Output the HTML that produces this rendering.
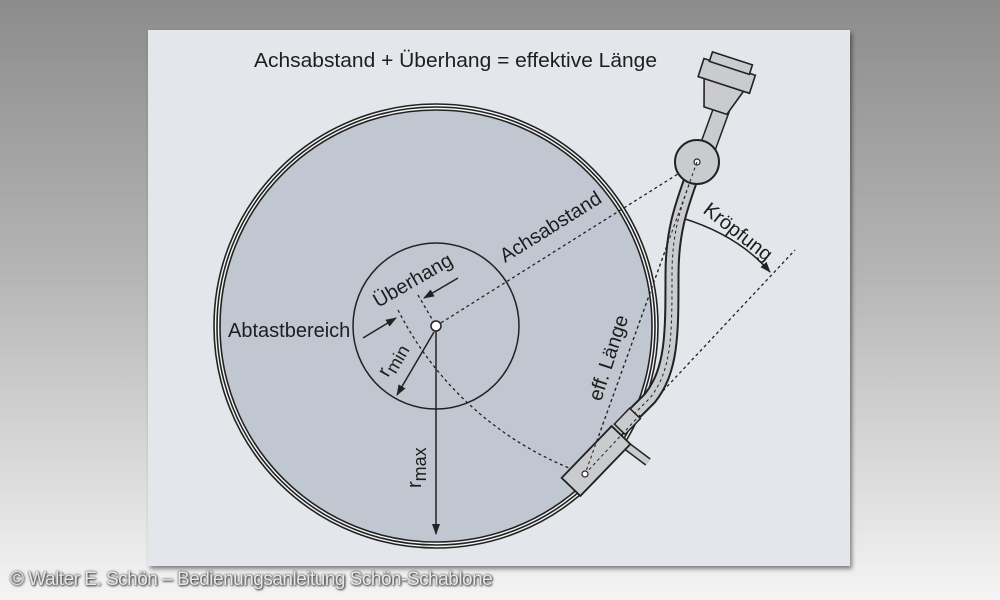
<!DOCTYPE html>
<html><head><meta charset="utf-8"><style>
html,body{margin:0;padding:0;width:1000px;height:600px;overflow:hidden;background:linear-gradient(#8c8c8c 0%,#b4b4b4 45%,#f4f4f4 100%);font-family:"Liberation Sans",sans-serif;}
#card{position:absolute;left:148px;top:30px;width:702px;height:536px;background:#e3e6ea;box-shadow:2px 3px 4px rgba(0,0,0,.45);}
#copy{position:absolute;left:10px;top:569px;font-size:19px;color:#e8e8e8;letter-spacing:-0.5px;text-shadow:0 0 2px #333,1px 1px 2px #333;}
svg{position:absolute;left:0;top:0}
text{font-family:"Liberation Sans Narrow","Liberation Sans",sans-serif;fill:#1e1e1e;font-size:20px}
</style></head><body>
<div id="card"></div>
<svg width="1000" height="600" viewBox="0 0 1000 600">
<defs><marker id="ar" markerWidth="11" markerHeight="8" refX="10" refY="4" orient="auto" markerUnits="userSpaceOnUse"><path d="M0,0 L11,4 L0,8 z" fill="#222"/></marker></defs>
<text x="254" y="67" font-size="21" textLength="403" lengthAdjust="spacingAndGlyphs">Achsabstand + Überhang = effektive Länge</text>
<circle cx="436" cy="326" r="222" fill="#f4f5f7" stroke="#222" stroke-width="1.6"/>
<circle cx="436" cy="326" r="219" fill="none" stroke="#222" stroke-width="1.6"/>
<circle cx="436" cy="326" r="216" fill="#c1c7d0" stroke="#222" stroke-width="1.6"/>
<circle cx="436" cy="326" r="83" fill="none" stroke="#222" stroke-width="1.5"/>
<line x1="436" y1="326" x2="697" y2="162" stroke="#222" stroke-width="1.3" stroke-dasharray="3,3"/>
<line x1="697" y1="162" x2="585" y2="474" stroke="#222" stroke-width="1.3" stroke-dasharray="3,3"/>
<line x1="585" y1="474" x2="795" y2="250" stroke="#222" stroke-width="1.3" stroke-dasharray="3,3"/>
<path d="M398,310 A333,333 0 0 0 585,474" fill="none" stroke="#222" stroke-width="1.3" stroke-dasharray="3,3"/>
<line x1="418" y1="295" x2="436" y2="326" stroke="#222" stroke-width="1.3" stroke-dasharray="3,3"/>
<line x1="458" y1="278" x2="424" y2="298" stroke="#222" stroke-width="1.5" marker-end="url(#ar)"/>
<line x1="363" y1="338" x2="396" y2="318" stroke="#222" stroke-width="1.5" marker-end="url(#ar)"/>
<line x1="434" y1="332" x2="397" y2="395" stroke="#222" stroke-width="1.5" marker-end="url(#ar)"/>
<line x1="436" y1="330" x2="436" y2="534" stroke="#222" stroke-width="1.5" marker-end="url(#ar)"/>
<path d="M682,218 Q738,235 770,272" fill="none" stroke="#222" stroke-width="1.5" marker-end="url(#ar)"/>
<circle cx="436" cy="326" r="5" fill="#fff" stroke="#222" stroke-width="1.5"/>
<!-- arm -->
<path d="M697,162 C684,200 672,225 672,275 C672,335 672,370 650,398 L628,420" fill="none" stroke="#222" stroke-width="15"/>
<path d="M697,162 C684,200 672,225 672,275 C672,335 672,370 650,398 L628,420" fill="none" stroke="#cacbce" stroke-width="11"/>
<path d="M697,162 C684,200 672,225 672,275 C672,335 672,370 650,398 L628,420" fill="none" stroke="#222" stroke-width="1" stroke-dasharray="3,3"/>
<rect x="706" y="108" width="16" height="42" fill="#cacbce" stroke="#222" stroke-width="1.5" transform="rotate(20 714 130)"/>
<g transform="rotate(18 725 78)">
<path d="M705,84 L747,84 L738,112 L714,112 z" fill="#cacbce" stroke="#222" stroke-width="1.6"/>
<rect x="699" y="66" width="54" height="19" fill="#cacbce" stroke="#222" stroke-width="1.6"/>
<rect x="705" y="57" width="42" height="10" fill="#cacbce" stroke="#222" stroke-width="1.6"/>
</g>
<circle cx="697" cy="162" r="22" fill="#cacbce" stroke="#222" stroke-width="2"/>
<circle cx="697" cy="162" r="3" fill="#fff" stroke="#222" stroke-width="1.2"/>
<!-- headshell -->
<line x1="628" y1="447" x2="648" y2="462" stroke="#222" stroke-width="9"/>
<line x1="628" y1="447" x2="648" y2="462" stroke="#cacbce" stroke-width="6"/>
<rect x="560" y="448" width="72" height="26" fill="#cacbce" stroke="#222" stroke-width="1.8" transform="rotate(-46 596 461)"/>
<rect x="616" y="414" width="22" height="15" fill="#cacbce" stroke="#222" stroke-width="1.5" transform="rotate(-46 627 421)"/>
<line x1="585" y1="474" x2="640" y2="415" stroke="#222" stroke-width="1" stroke-dasharray="3,3"/>
<line x1="697" y1="162" x2="585" y2="474" stroke="#222" stroke-width="1" stroke-dasharray="3,3"/>
<circle cx="585" cy="474" r="3" fill="#fff" stroke="#222" stroke-width="1.2"/>
<!-- labels -->
<text x="0" y="0" transform="translate(505,263) rotate(-32)" font-size="21">Achsabstand</text>
<text x="0" y="0" transform="translate(378,308) rotate(-30)" font-size="21">Überhang</text>
<text x="228" y="337" font-size="20">Abtastbereich</text>
<text x="0" y="0" transform="translate(388,378) rotate(-60)" font-size="26">r<tspan font-size="18" dy="5">min</tspan></text>
<text x="0" y="0" transform="translate(421,488) rotate(-90)" font-size="26">r<tspan font-size="18" dy="5">max</tspan></text>
<text x="0" y="0" transform="translate(601,402) rotate(-72)" font-size="20">eff.  Länge</text>
<text x="0" y="0" transform="translate(702,212) rotate(38)" font-size="20">Kröpfung</text>
</svg>
<div id="copy">© Walter E. Schön – Bedienungsanleitung Schön-Schablone</div>
</body></html>
